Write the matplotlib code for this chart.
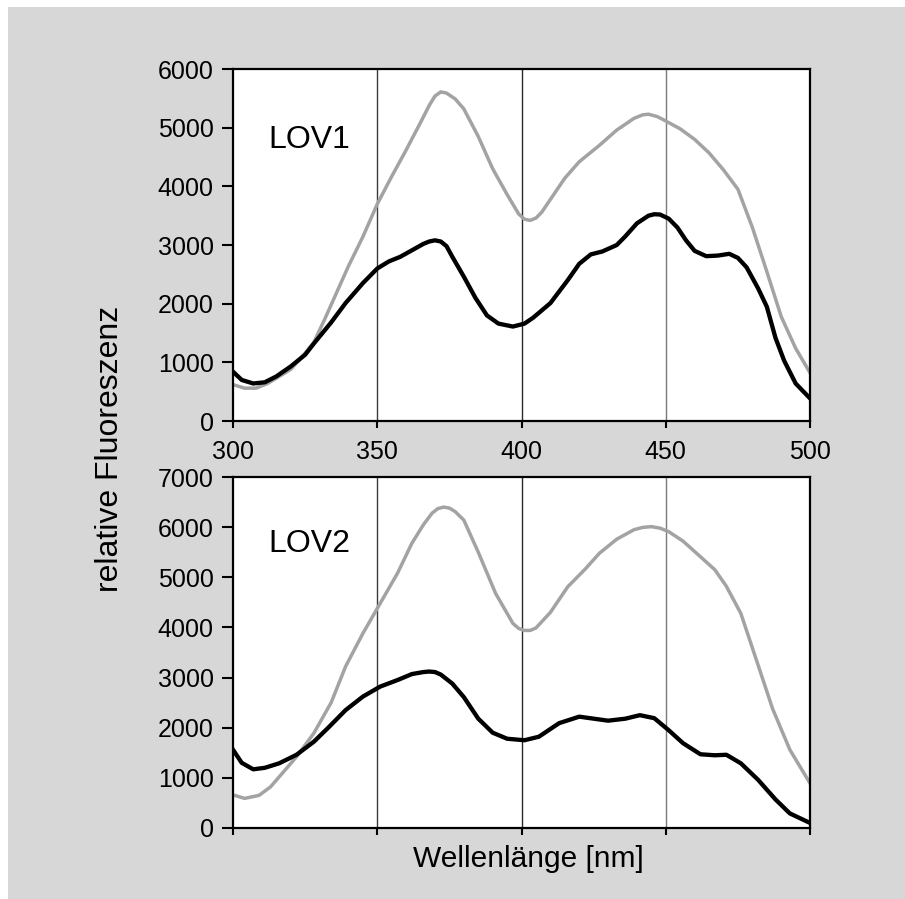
import matplotlib.pyplot as plt
from matplotlib.patches import Rectangle

# Excitation spectra, LOV1 domain
lov1_gray_nm = [300, 304, 308, 312, 316, 320, 324, 328, 332, 336, 340, 345, 350, 355, 360,
                365, 368, 370, 372, 374, 377, 380, 385, 390, 395, 399, 401, 403, 405, 407,
                411, 415, 420, 427, 433, 439, 442, 444, 447, 449, 455, 460, 465, 470, 475,
                480, 485, 490, 495, 500]
lov1_gray = [620, 560, 560, 640, 760, 880, 1100, 1340, 1760, 2200, 2640, 3140, 3700, 4170, 4620,
             5090, 5380, 5540, 5610, 5590, 5490, 5320, 4850, 4300, 3860, 3530, 3440, 3420, 3460, 3560,
             3850, 4140, 4420, 4700, 4960, 5160, 5220, 5230, 5190, 5140, 4980, 4800, 4570, 4280, 3950,
             3300, 2550, 1780, 1240, 820]

lov1_black_nm = [300, 303, 307, 311, 315, 320, 325, 328, 334, 339, 345, 350, 354, 358, 362,
                 366, 368, 370, 372, 374, 376, 380, 384, 388, 392, 397, 401, 404, 410, 416,
                 420, 424, 428, 433, 436, 440, 444, 446, 448, 451, 454, 457, 460, 464, 468,
                 472, 475, 478, 482, 485, 488, 491, 495, 500]
lov1_black = [840, 700, 640, 660, 760, 930, 1130, 1320, 1680, 2010, 2350, 2600, 2720, 2800, 2910,
              3020, 3060, 3080, 3060, 2980, 2800, 2460, 2100, 1800, 1660, 1610, 1660, 1760, 2010, 2400,
              2680, 2840, 2890, 3000, 3150, 3370, 3500, 3525, 3520, 3450, 3300, 3080, 2900, 2810, 2820,
              2850, 2780, 2620, 2260, 1950, 1420, 1030, 640, 385]

# Excitation spectra, LOV2 domain
lov2_gray_nm = [300, 304, 309, 313, 316, 322, 328, 334, 339, 345, 351, 357, 362, 366, 369,
                371, 373, 375, 377, 380, 385, 391, 397, 399, 401, 403, 405, 410, 416, 422,
                427, 433, 439, 442, 445, 448, 451, 456, 462, 467, 471, 476, 481, 487, 493,
                500]
lov2_gray = [660, 590, 650, 820, 1020, 1420, 1890, 2500, 3220, 3880, 4480, 5080, 5680, 6050, 6280,
             6370, 6400, 6380, 6310, 6140, 5500, 4680, 4080, 3980, 3940, 3940, 3990, 4300, 4810, 5160,
             5480, 5760, 5950, 5995, 6010, 5980, 5910, 5720, 5410, 5150, 4820, 4280, 3420, 2380, 1560,
             890]

lov2_black_nm = [300, 303, 307, 311, 316, 322, 328, 333, 339, 345, 351, 357, 362, 366, 368,
                 370, 372, 376, 380, 385, 390, 395, 401, 406, 413, 420, 425, 430, 436, 441,
                 446, 451, 456, 462, 467, 471, 476, 482, 488, 493, 500]
lov2_black = [1560, 1300, 1170, 1200, 1290, 1460, 1720, 2000, 2350, 2620, 2820, 2950, 3070, 3110, 3120,
              3110, 3060, 2880, 2610, 2180, 1900, 1780, 1750, 1820, 2090, 2220, 2180, 2140, 2180, 2250,
              2190, 1950, 1690, 1470, 1450, 1460, 1290, 960, 570, 290, 100]

x_ticks = [300, 350, 400, 450, 500]
grid_nm = [350, 400, 450]
grid_colors = ['#3a3a3a', '#2a2a2a', '#7a7a7a']

plt.rcParams['font.family'] = ['Liberation Sans', 'DejaVu Sans']

fig = plt.figure(figsize=(9.05, 8.99), dpi=100, facecolor='white')
# gray panel with a thin white margin on top and left
fig.patches.append(Rectangle((8 / 905, 0), 1, 1 - 7 / 899, transform=fig.transFigure,
                             facecolor='#d7d7d7', edgecolor='none', zorder=-10))

ax1 = fig.add_axes([0.2575, 0.5317, 0.6376, 0.3915])
ax2 = fig.add_axes([0.2575, 0.0790, 0.6376, 0.3904])

panels = [
    (ax1, lov1_gray_nm, lov1_gray, lov1_black_nm, lov1_black, 6000, 'LOV1', 0.776),
    (ax2, lov2_gray_nm, lov2_gray, lov2_black_nm, lov2_black, 7000, 'LOV2', 0.787),
]

for ax, gx, gy, bx, by, ymax, name, ty in panels:
    ax.set_facecolor('white')
    for xv, c in zip(grid_nm, grid_colors):
        ax.axvline(xv, color=c, lw=1.0, zorder=1)
    ax.plot(gx, gy, color='#a3a3a3', lw=2.5, solid_joinstyle='round', zorder=2)
    ax.plot(bx, by, color='black', lw=3.1, solid_joinstyle='round', zorder=3)
    ax.set_xlim(300, 500)
    ax.set_ylim(0, ymax)
    ax.set_xticks(x_ticks)
    ax.set_yticks(range(0, ymax + 1, 1000))
    ax.tick_params(axis='y', direction='out', length=8, width=1.5, pad=6, labelsize=18)
    ax.tick_params(axis='x', direction='out', length=5, width=1.5, pad=9, labelsize=18)
    for sp in ax.spines.values():
        sp.set_linewidth(1.6)
    ax.text(0.061, ty, name, transform=ax.transAxes, fontsize=23, va='baseline', ha='left')

ax2.set_xticklabels([])

fig.text(0.1215, 0.5006, 'relative Fluoreszenz', rotation=90, fontsize=23,
         ha='center', va='center')
fig.text(0.5834, 0.0356, 'Wellenlänge [nm]', fontsize=21.5, ha='center', va='baseline')

plt.savefig('out.png', dpi=100, facecolor=fig.get_facecolor())
